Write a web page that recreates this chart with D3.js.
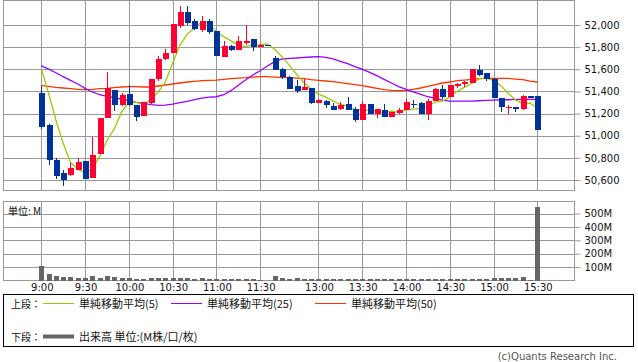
<!DOCTYPE html>
<html><head><meta charset="utf-8">
<script src="https://cdn.jsdelivr.net/npm/d3@7"></script>
<style>body{margin:0;background:#fff}svg{display:block}</style>
</head><body>
<svg id="c" width="638" height="362"></svg>
<script>
const times = ["9:00","9:05","9:10","9:15","9:20","9:25","9:30","9:35","9:40","9:45","9:50","9:55","10:00","10:05","10:10","10:15","10:20","10:25","10:30","10:35","10:40","10:45","10:50","10:55","11:00","11:05","11:10","11:15","11:20","11:25","11:30","12:25","12:30","12:35","12:40","12:45","12:50","12:55","13:00","13:05","13:10","13:15","13:20","13:25","13:30","13:35","13:40","13:45","13:50","13:55","14:00","14:05","14:10","14:15","14:20","14:25","14:30","14:35","14:40","14:45","14:50","14:55","15:00","15:05","15:10","15:15","15:20","15:25","15:30"];
const xTickLabels = ["9:00","9:30","10:00","10:30","11:00","11:30","13:00","13:30","14:00","14:30","15:00","15:30"];
const priceTicks = [50600,50800,51000,51200,51400,51600,51800,52000];
const volTicks = [100,200,300,400,500];

const opens  = [51386,51099,50780,50663,50645,50693,50771,50620,50834,51163,51413,51277,51377,51277,51181,51295,51509,51693,51750,51994,52117,52036,51955,52036,51949,51711,51813,51777,51834,51873,51801,51822,51702,51602,51527,51449,51416,51431,51298,51316,51268,51241,51286,51244,51142,51286,51199,51232,51172,51208,51232,51289,51295,51199,51310,51419,51349,51449,51464,51479,51593,51566,51509,51337,51253,51259,51241,51358,51358];
const highs  = [51449,51105,50798,50690,50750,50798,50771,50991,51163,51575,51413,51386,51455,51277,51304,51512,51720,51783,52009,52172,52172,52051,52081,52057,51949,51858,51819,51901,52000,51873,51825,51822,51720,51614,51539,51503,51512,51431,51334,51325,51295,51301,51349,51256,51313,51286,51241,51283,51214,51247,51328,51325,51301,51334,51431,51458,51458,51479,51494,51602,51639,51566,51521,51337,51277,51259,51367,51358,51358];
const lows   = [51063,50738,50608,50548,50639,50690,50608,50620,50834,51163,51226,51271,51268,51136,51181,51286,51494,51684,51750,51973,52003,51955,51934,51922,51720,51711,51768,51771,51822,51768,51798,51816,51596,51515,51419,51389,51416,51289,51292,51253,51229,51229,51235,51127,51142,51199,51163,51172,51172,51199,51232,51250,51199,51145,51310,51328,51349,51431,51443,51479,51542,51497,51343,51217,51199,51217,51229,51352,51054];
const closes = [51078,50780,50639,50599,50708,50762,50608,50825,51163,51428,51280,51367,51274,51172,51304,51512,51693,51750,52009,52117,52021,51967,52036,51937,51720,51813,51777,51855,51855,51801,51822,51816,51596,51533,51425,51404,51440,51298,51325,51277,51232,51277,51235,51142,51286,51199,51241,51172,51214,51232,51304,51283,51199,51310,51422,51349,51458,51467,51485,51602,51551,51509,51343,51256,51262,51244,51355,51352,51054];
const volumes = [107,45,30,25,25,17,17,30,17,37,25,17,17,12,12,17,17,17,17,17,17,12,15,12,12,12,12,12,12,12,3,0,37,17,12,15,12,12,12,12,12,12,12,12,12,12,12,12,12,12,12,12,12,12,12,12,12,12,12,12,12,12,17,17,17,17,25,3,545];
const ma5  = [51608,51383,51142,50931,50761,50698,50663,50700,50813,50957,51061,51213,51302,51304,51279,51326,51391,51486,51654,51816,51918,51973,52030,52016,51936,51895,51857,51820,51804,51820,51822,51830,51778,51714,51638,51555,51480,51420,51378,51349,51314,51282,51269,51233,51234,51228,51221,51208,51222,51212,51233,51241,51246,51266,51304,51313,51348,51401,51436,51472,51513,51523,51498,51452,51384,51323,51292,51294,51253];
const ma25 = [51630,51602,51569,51533,51500,51467,51428,51395,51370,51355,51343,51331,51316,51301,51292,51280,51274,51277,51286,51298,51310,51325,51340,51349,51352,51370,51407,51455,51503,51548,51587,51630,51669,51693,51699,51702,51708,51711,51714,51708,51693,51672,51651,51624,51602,51572,51542,51509,51476,51443,51419,51395,51374,51352,51337,51322,51313,51313,51313,51313,51316,51319,51322,51325,51325,51328,51328,51328,51328];
const ma50 = [51455,51446,51437,51431,51425,51419,51416,51419,51425,51428,51434,51440,51443,51443,51440,51440,51449,51458,51467,51476,51485,51491,51497,51500,51503,51509,51515,51521,51524,51530,51533,51533,51530,51527,51524,51521,51515,51506,51500,51494,51488,51479,51470,51461,51452,51440,51428,51416,51410,51407,51407,51419,51431,51446,51461,51476,51485,51497,51503,51509,51515,51518,51518,51518,51518,51512,51506,51494,51485];

const UP = "#ff0033", DOWN = "#003399", GRID = "#999999";
const svg = d3.select("#c");
const L = 3.5, R = 574.5, T = 0.5, B = 190.5, VT = 201.5, VB = 280.5;
const x = d3.scalePoint().domain(times).range([41.3, 537.3]);
const y = d3.scaleLinear().domain([50600, 52000]).range([180, 25]);
const yv = d3.scaleLinear().domain([0, 500]).range([280.5, 213.5]);
const px = t => Math.round(x(t));
const py = v => Math.round(v) + 0.5;

const g = svg.append("g");
// grids upper
g.selectAll(".hg").data(priceTicks).join("line")
  .attr("x1", L).attr("x2", R).attr("y1", d => py(y(d))).attr("y2", d => py(y(d)))
  .attr("stroke", GRID);
g.selectAll(".vg").data(xTickLabels).join("line")
  .attr("x1", d => px(d) + 0.5).attr("x2", d => px(d) + 0.5).attr("y1", T).attr("y2", B)
  .attr("stroke", GRID);
g.append("rect").attr("x", L).attr("y", T).attr("width", R - L).attr("height", B - T)
  .attr("fill", "none").attr("stroke", GRID);
// grids lower
g.selectAll(".hgv").data(volTicks).join("line")
  .attr("x1", L).attr("x2", R).attr("y1", d => py(yv(d))).attr("y2", d => py(yv(d)))
  .attr("stroke", GRID);
g.selectAll(".vgv").data(xTickLabels).join("line")
  .attr("x1", d => px(d) + 0.5).attr("x2", d => px(d) + 0.5).attr("y1", VT).attr("y2", VB)
  .attr("stroke", GRID);
g.append("rect").attr("x", L).attr("y", VT).attr("width", R - L).attr("height", VB - VT)
  .attr("fill", "none").attr("stroke", GRID);

// axes
const ya = svg.append("g").attr("transform", `translate(${R},0)`)
  .call(d3.axisRight(y).tickValues(priceTicks).tickFormat(d3.format(",")).tickSize(6).tickPadding(4));
const va = svg.append("g").attr("transform", `translate(${R},0)`)
  .call(d3.axisRight(yv).tickValues(volTicks).tickFormat(d => d + "M").tickSize(6).tickPadding(4));
const xa = svg.append("g").attr("transform", `translate(0.5,${VB})`)
  .call(d3.axisBottom(x).tickValues(xTickLabels).tickSize(0).tickPadding(3));
[ya, va, xa].forEach(a => {
  a.select(".domain").remove();
  a.selectAll("line").attr("stroke", GRID);
  a.selectAll("text").attr("font-family", "DejaVu Sans").attr("font-size", 10).attr("fill", "#111");
});

// volume bars
svg.append("g").selectAll("rect").data(times).join("rect")
  .attr("x", d => px(d) - 2).attr("width", 5)
  .attr("y", (d, i) => yv(volumes[i])).attr("height", (d, i) => Math.max(0, yv(0) - yv(volumes[i])))
  .attr("fill", "#666").attr("shape-rendering", "crispEdges");

// MA lines
const line = arr => d3.line().x((d, i) => x(times[i])).y(d => y(d))(arr);
[[ma50, "#ff3300"], [ma25, "#9900ff"], [ma5, "#99cc00"]].forEach(([arr, c]) => {
  svg.append("path").attr("d", line(arr)).attr("fill", "none").attr("stroke", c).attr("stroke-width", 1.3);
});

// candles
const cg = svg.append("g").attr("shape-rendering", "crispEdges");
times.forEach((t, i) => {
  const o = opens[i], c = closes[i], col = c >= o ? UP : DOWN;
  const cx = px(t);
  cg.append("rect").attr("x", cx).attr("width", 1)
    .attr("y", y(highs[i])).attr("height", Math.max(1, y(lows[i]) - y(highs[i]))).attr("fill", col);
  const top = y(Math.max(o, c)), h = Math.max(1.5, Math.abs(y(o) - y(c)));
  cg.append("rect").attr("x", cx - 2.5).attr("width", 6).attr("y", top).attr("height", h).attr("fill", col);
});

// labels
const txt = (s, xx, yy, opt = {}) => svg.append("text").attr("x", xx).attr("y", yy)
  .attr("font-family", opt.f || "'Noto Sans CJK JP', sans-serif").attr("font-size", opt.s || 11)
  .attr("fill", opt.c || "#111").attr("text-anchor", opt.a || "start").attr("dominant-baseline", "central").text(s);
txt("単位: M", 8, 210, {s: 10});

// legend
svg.append("rect").attr("x", 3.5).attr("y", 294.5).attr("width", 630).attr("height", 52)
  .attr("fill", "none").attr("stroke", "#000");
txt("上段：", 11, 303, {s: 10});
txt("下段：", 11, 336, {s: 10});
const leg = [["単純移動平均(5)", "#99cc00", 43], ["単純移動平均(25)", "#9900ff", 171], ["単純移動平均(50)", "#ff3300", 315]];
leg.forEach(([s, c, lx]) => {
  svg.append("line").attr("x1", lx).attr("x2", lx + 31).attr("y1", 303.5).attr("y2", 303.5).attr("stroke", c);
  txt(s, lx + 36, 303, {s: 11});
});
svg.append("line").attr("x1", 43).attr("x2", 74).attr("y1", 336.5).attr("y2", 336.5).attr("stroke", "#666").attr("stroke-width", 4);
txt("出来高 単位:(M株/口/枚)", 79, 336, {s: 11});
txt("(c)Quants Research Inc.", 617, 356, {s: 10, c: "#555", a: "end", f: "'DejaVu Sans', sans-serif"});
</script>
</body></html>
